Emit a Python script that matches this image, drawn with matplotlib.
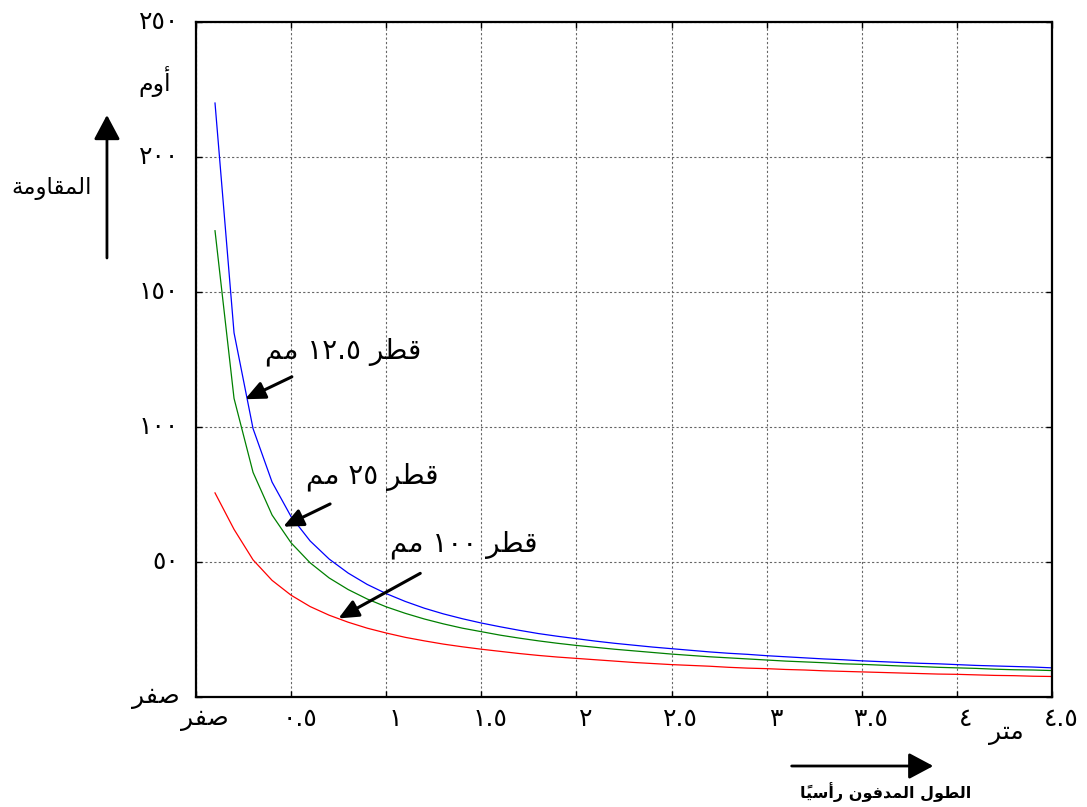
import matplotlib
matplotlib.use('Agg')
import matplotlib.pyplot as plt
import matplotlib.transforms as mtransforms

# buried length (m) and earth resistance (ohm) for three rod diameters
length_m = [0.1, 0.2, 0.3, 0.4, 0.5, 0.6, 0.7, 0.8, 0.9, 1.0,
            1.1, 1.2, 1.3, 1.4, 1.5, 1.6, 1.7, 1.8, 1.9, 2.0,
            2.1, 2.2, 2.3, 2.4, 2.5, 2.6, 2.7, 2.8, 2.9, 3.0,
            3.1, 3.2, 3.3, 3.4, 3.5, 3.6, 3.7, 3.8, 3.9, 4.0,
            4.1, 4.2, 4.3, 4.4, 4.5]
r_rod_12_5mm = [220.0, 134.9, 99.4, 79.6, 66.8, 57.8, 51.1, 45.9, 41.7, 38.3,
                35.4, 32.9, 30.8, 29.0, 27.4, 26.0, 24.7, 23.5, 22.5, 21.6,
                20.7, 19.9, 19.2, 18.5, 17.9, 17.3, 16.7, 16.2, 15.8, 15.3,
                14.9, 14.5, 14.1, 13.8, 13.4, 13.1, 12.8, 12.5, 12.3, 12.0,
                11.7, 11.5, 11.3, 11.1, 10.8]
r_rod_25mm = [172.7, 110.6, 83.2, 67.4, 57.1, 49.7, 44.1, 39.8, 36.3, 33.4,
              31.0, 28.9, 27.1, 25.5, 24.2, 22.9, 21.8, 20.8, 19.9, 19.1,
              18.4, 17.7, 17.1, 16.5, 15.9, 15.4, 14.9, 14.5, 14.1, 13.7,
              13.3, 13.0, 12.7, 12.3, 12.1, 11.8, 11.5, 11.3, 11.0, 10.8,
              10.6, 10.3, 10.1, 10.0, 9.8]
r_rod_100mm = [75.6, 62.1, 50.8, 43.2, 37.7, 33.5, 30.3, 27.7, 25.5, 23.7,
               22.1, 20.8, 19.6, 18.6, 17.7, 16.9, 16.1, 15.4, 14.8, 14.3,
               13.8, 13.3, 12.8, 12.4, 12.0, 11.7, 11.4, 11.0, 10.7, 10.5,
               10.2, 10.0, 9.7, 9.5, 9.3, 9.1, 8.9, 8.7, 8.5, 8.4,
               8.2, 8.0, 7.9, 7.7, 7.6]

x_ticks = [0, 0.5, 1, 1.5, 2, 2.5, 3, 3.5, 4, 4.5]
x_tick_labels = ['صفر', '٠.٥', '١', '١.٥', '٢', '٢.٥', '٣', '٣.٥', '٤', '٤.٥']
y_ticks = [0, 50, 100, 150, 200, 250]
y_tick_labels = ['صفر', '٥٠', '١٠٠', '١٥٠', '٢٠٠', '٢٥٠']

# presentation forms: isolated, final, initial, medial
FORMS = {
    'ا': ('\uFE8D', '\uFE8E', None, None),
    'أ': ('\uFE83', '\uFE84', None, None),
    'ة': ('\uFE93', '\uFE94', None, None),
    'ت': ('\uFE95', '\uFE96', '\uFE97', '\uFE98'),
    'د': ('\uFEA9', '\uFEAA', None, None),
    'ر': ('\uFEAD', '\uFEAE', None, None),
    'س': ('\uFEB1', '\uFEB2', '\uFEB3', '\uFEB4'),
    'ص': ('\uFEB9', '\uFEBA', '\uFEBB', '\uFEBC'),
    'ط': ('\uFEC1', '\uFEC2', '\uFEC3', '\uFEC4'),
    'ف': ('\uFED1', '\uFED2', '\uFED3', '\uFED4'),
    'ق': ('\uFED5', '\uFED6', '\uFED7', '\uFED8'),
    'ل': ('\uFEDD', '\uFEDE', '\uFEDF', '\uFEE0'),
    'م': ('\uFEE1', '\uFEE2', '\uFEE3', '\uFEE4'),
    'ن': ('\uFEE5', '\uFEE6', '\uFEE7', '\uFEE8'),
    'و': ('\uFEED', '\uFEEE', None, None),
    'ي': ('\uFEF1', '\uFEF2', '\uFEF3', '\uFEF4'),
}
MARKS = '\u064B'


def shape_word(word):
    """
    matplotlib has no arabic shaping, so pick the joined glyph form of each letter
    and return the word in visual (left to right) order.
    """
    chars = list(word)
    letters = [i for i, c in enumerate(chars) if c in FORMS]
    out = []
    for i, c in enumerate(chars):
        if c not in FORMS:
            out.append(c)
            continue
        k = letters.index(i)
        prev = chars[letters[k - 1]] if k > 0 else None
        nxt = chars[letters[k + 1]] if k + 1 < len(letters) else None
        f = FORMS[c]
        join_prev = prev is not None and FORMS[prev][2] is not None
        join_next = nxt is not None and f[2] is not None
        if join_prev and join_next:
            out.append(f[3])
        elif join_prev:
            out.append(f[1])
        elif join_next:
            out.append(f[2])
        else:
            out.append(f[0])
    clusters = []
    for g in out:
        if g in MARKS and clusters:
            clusters[-1] += g
        else:
            clusters.append(g)
    return ''.join(reversed(clusters))


def rtl(text):
    """reverse word order, shape arabic words, keep numbers as they are"""
    words = []
    for w in reversed(text.split(' ')):
        if any(c in FORMS for c in w):
            words.append(shape_word(w))
        else:
            words.append(w)
    return ' '.join(words)


def main():
    plt.rcParams['font.family'] = ['DejaVu Sans']
    fig = plt.figure(figsize=(10.87, 8.07), dpi=100)
    ax = fig.add_axes([0.1803, 0.1363, 0.7875, 0.8364])

    ax.plot(length_m, r_rod_12_5mm, color='#0000ff', lw=0.9)
    ax.plot(length_m, r_rod_25mm, color='#008000', lw=0.9)
    ax.plot(length_m, r_rod_100mm, color='#ff0000', lw=0.9)

    ax.set_xlim(0, 4.5)
    ax.set_ylim(0, 250)
    ax.set_xticks(x_ticks)
    ax.set_xticklabels([rtl(t) for t in x_tick_labels], fontsize=18)
    ax.set_yticks(y_ticks)
    ax.set_yticklabels([rtl(t) for t in y_tick_labels], fontsize=18)
    ax.tick_params(direction='in', length=4, width=1, top=True, right=True)
    ax.tick_params(axis='x', pad=7)
    ax.tick_params(axis='y', pad=12)
    for lab in ax.get_xticklabels():
        lab.set_transform(lab.get_transform() + mtransforms.ScaledTranslation(0.09, 0, fig.dpi_scale_trans))
    for lab in ax.get_yticklabels():
        lab.set_transform(lab.get_transform() + mtransforms.ScaledTranslation(0, 0.03, fig.dpi_scale_trans))

    ax.set_axisbelow(True)
    ax.grid(True, color='#666666', linestyle=(0, (2, 2)), linewidth=0.8)
    for s in ax.spines.values():
        s.set_linewidth(1.6)

    # labels with arrows pointing at each curve
    arrow = dict(arrowstyle='-|>,head_length=0.6,head_width=0.27', color='black',
                 lw=2.2, mutation_scale=20, shrinkA=0, shrinkB=0)
    ax.annotate('', xy=(0.258, 110.3), xytext=(0.504, 118.6), arrowprops=arrow)
    ax.text(0.774, 127.8, rtl('قطر ١٢.٥ مم'), fontsize=20, ha='center', va='center')
    ax.annotate('', xy=(0.459, 63.1), xytext=(0.705, 71.5), arrowprops=arrow)
    ax.text(0.926, 81.5, rtl('قطر ٢٥ مم'), fontsize=20, ha='center', va='center')
    ax.annotate('', xy=(0.749, 29.1), xytext=(1.179, 45.8), arrowprops=arrow)
    ax.text(1.405, 56.3, rtl('قطر ١٠٠ مم'), fontsize=20, ha='center', va='center')

    # axis names
    fig.text(0.1426, 0.8984, rtl('أوم'), fontsize=17, ha='center', va='center')
    fig.text(0.0478, 0.767, rtl('المقاومة'), fontsize=16.5, ha='center', va='center')
    fig.text(0.9255, 0.0917, rtl('متر'), fontsize=18, ha='center', va='center')
    fig.text(0.815, 0.019, rtl('الطول المدفون رأسياً'), fontsize=11.5, fontweight='bold',
             ha='center', va='center')
    big = dict(arrowstyle='-|>,head_length=0.75,head_width=0.4', color='black',
               lw=2, mutation_scale=20, shrinkA=0, shrinkB=0)
    fig.add_artist(matplotlib.patches.FancyArrowPatch((0.0984, 0.6803), (0.0984, 0.8575),
                                                      transform=fig.transFigure, **big))
    fig.add_artist(matplotlib.patches.FancyArrowPatch((0.7283, 0.0508), (0.8586, 0.0508),
                                                      transform=fig.transFigure, **big))

    plt.savefig('out.png', dpi=100)


if __name__ == "__main__":
    main()
